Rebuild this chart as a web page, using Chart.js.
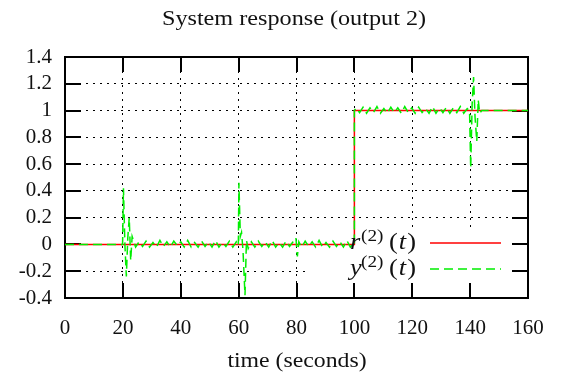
<!DOCTYPE html>
<html>
<head>
<meta charset="utf-8">
<script src="https://cdn.jsdelivr.net/npm/chart.js@4/dist/chart.umd.min.js"></script>
<style>
  body { margin: 0; background: #fff; }
  #wrap { width: 564px; height: 383px; position: relative; }
</style>
</head>
<body>
<div id="wrap"><canvas id="myChart"></canvas></div>
<script>
// tick labels
var xTickLabels = ['0', '20', '40', '60', '80', '100', '120', '140', '160'];
var yTickLabels = ['-0.4', '-0.2', '0', '0.2', '0.4', '0.6', '0.8', '1', '1.2', '1.4'];

// reference r(t)
var refTime  = [0, 100, 100, 160];
var refValue = [0, 0, 1, 1];

// output y(t)
var outTime = [0, 19.9, 20.2, 20.7, 21.2, 21.7, 22.2, 22.7, 23.2,
	24.4, 25.6, 26.8, 28.0, 29.2, 30.4, 31.6, 32.8, 34.0, 35.2,
	36.4, 37.6, 38.8, 40.0, 41.2, 42.4, 43.6, 44.8, 46.0, 47.2,
	48.4, 49.6, 50.8, 52.0, 53.2, 54.4, 55.6, 56.8, 58.0, 59.2,
	59.9, 60.1, 60.6, 61.0, 61.5, 62.2, 62.7, 63.3,
	64.4, 65.6, 66.8, 68.0, 69.2, 70.4, 71.6, 72.8, 74.0, 75.2, 76.4, 77.6, 78.8,
	79.8, 80.3, 80.8,
	81.8, 83.0, 84.2, 85.4, 86.6, 87.8, 89.0, 90.2, 91.4, 92.6, 93.8, 95.0, 96.2, 97.4, 98.6, 99.6,
	100, 100,
	100.6, 101.8, 103.0, 104.2, 105.4, 106.6, 107.8, 109.0, 110.2, 111.4,
	112.6, 113.8, 115.0, 116.2, 117.4, 118.6, 119.8, 121.0, 122.2, 123.4,
	124.6, 125.8, 127.0, 128.2, 129.4, 130.6, 131.8, 133.0, 134.2, 135.4,
	136.6, 137.8, 139.0,
	139.8, 140.2, 140.7, 141.2, 141.7, 142.3, 142.8, 143.3, 144.0, 160];
var outValue = [0, 0, 0.42, 0.0, -0.24, 0.05, 0.20, -0.12, 0.06,
	-0.02, 0.02, -0.015, 0.025, -0.02, 0.015, -0.02, 0.03, -0.015, 0.02,
	-0.02, 0.025, -0.01, 0.02, -0.02, 0.03, -0.02, 0.015, -0.02, 0.025,
	-0.015, 0.02, -0.02, 0.03, -0.02, 0.015, -0.015, 0.025, -0.02, 0.02,
	-0.01, 0.46, 0.06, 0.09, -0.04, -0.38, 0.03, -0.03,
	0.02, -0.02, 0.025, -0.015, 0.02, -0.02, 0.03, -0.02, 0.015, -0.02, 0.025, -0.015, 0.02,
	0.05, -0.09, 0.02,
	-0.02, 0.025, -0.015, 0.02, -0.02, 0.03, -0.02, 0.015, -0.02, 0.025, -0.015, 0.02, -0.02, 0.03, -0.02, 0.01,
	0, 1,
	1.02, 0.985, 1.025, 0.98, 1.02, 0.985, 1.03, 0.98, 1.015, 0.98,
	1.025, 0.985, 1.02, 0.98, 1.03, 0.985, 1.02, 0.98, 1.025, 0.985,
	1.015, 0.98, 1.03, 0.98, 1.02, 0.985, 1.025, 0.98, 1.02, 0.985,
	1.03, 0.98, 1.015,
	1.0, 0.57, 1.05, 1.25, 0.95, 0.77, 1.08, 0.98, 1.0, 1.0];

var RED = '#ff0000';
var GREEN = '#00ee00';
var SERIF = '"Liberation Serif", "Times New Roman", serif';

function toPoints (xs, ys) {
	return xs.map(function (x, i) { return { x: x, y: ys[i] }; });
}

// text stretched a little sideways, like the original print; returns end x
function drawText (ctx, text, font, x, y, align, sx) {
	ctx.save();
	ctx.font = font;
	ctx.fillStyle = '#111';
	ctx.textBaseline = 'alphabetic';
	var w = ctx.measureText(text).width * sx;
	var left = align === 'center' ? x - w / 2 : (align === 'right' ? x - w : x);
	ctx.translate(left, y);
	ctx.scale(sx, 1);
	ctx.textAlign = 'left';
	ctx.fillText(text, 0, 0);
	ctx.restore();
	return left + w;
}

// gnuplot style frame, inward ticks and key area
var framePlugin = {
	id: 'frame',
	beforeDatasetsDraw: function (chart) {
		var ctx = chart.ctx, a = chart.chartArea;
		var xs = chart.scales.x, ys = chart.scales.y;
		ctx.save();
		// key area hides the grid
		ctx.fillStyle = '#fff';
		ctx.fillRect(308, 230, a.right - 309, 53);
		ctx.strokeStyle = '#000';
		ctx.lineWidth = 2;
		ctx.beginPath();
		xs.ticks.forEach(function (t) {
			var px = Math.round(xs.getPixelForValue(t.value));
			ctx.moveTo(px, a.bottom); ctx.lineTo(px, a.bottom - 15);
			ctx.moveTo(px, a.top); ctx.lineTo(px, a.top + 15);
		});
		ys.ticks.forEach(function (t) {
			var py = Math.round(ys.getPixelForValue(t.value));
			ctx.moveTo(a.left, py); ctx.lineTo(a.left + 16, py);
			ctx.moveTo(a.right, py); ctx.lineTo(a.right - 16, py);
		});
		ctx.stroke();
		ctx.strokeRect(a.left, a.top, a.right - a.left, a.bottom - a.top);
		ctx.restore();
	},
	afterDraw: function (chart) {
		var ctx = chart.ctx;
		drawText(ctx, 'System response (output 2)', '22px ' + SERIF, 294, 25, 'center', 1.1);
		drawText(ctx, 'time (seconds)', '22px ' + SERIF, 297, 367, 'center', 1.08);

		// key: r^(2)(t) and y^(2)(t)
		var rows = [
			{ v: 'r', y: 249, color: RED, dash: [] },
			{ v: 'y', y: 275, color: GREEN, dash: [9, 5] }
		];
		rows.forEach(function (r) {
			drawText(ctx, r.v, 'italic 24px ' + SERIF, 350, r.y, 'left', 1.1);
			drawText(ctx, '(2)', '16px ' + SERIF, 361, r.y - 8, 'left', 1.2);
			var x = drawText(ctx, '(', '24px ' + SERIF, 389, r.y, 'left', 1.1);
			x = drawText(ctx, 't', 'italic 24px ' + SERIF, x + 1, r.y, 'left', 1.1);
			drawText(ctx, ')', '24px ' + SERIF, x + 1, r.y, 'left', 1.1);
			ctx.save();
			ctx.strokeStyle = r.color;
			ctx.lineWidth = 1.5;
			ctx.setLineDash(r.dash);
			ctx.beginPath();
			ctx.moveTo(430, r.y - 6);
			ctx.lineTo(501, r.y - 6);
			ctx.stroke();
			ctx.restore();
		});
	}
};

var el = document.getElementById('myChart');
var myChart = new Chart(el, {
	type: 'scatter',
	data: {
		datasets: [{
			label: 'y(t)',
			data: toPoints(outTime, outValue),
			showLine: true,
			borderColor: GREEN,
			borderWidth: 1.5,
			borderDash: [9, 5],
			pointRadius: 0,
			tension: 0
		}, {
			label: 'r(t)',
			data: toPoints(refTime, refValue),
			showLine: true,
			borderColor: RED,
			borderWidth: 1.5,
			pointRadius: 0,
			tension: 0
		}]
	},
	options: {
		responsive: true,
		maintainAspectRatio: false,
		animation: false,
		layout: { padding: { top: 57, right: 36, left: 0, bottom: 0 } },
		plugins: {
			legend: { display: false },
			tooltip: { enabled: false }
		},
		scales: {
			x: {
				type: 'linear',
				min: 0,
				max: 160,
				afterFit: function (s) {
					s.height = 85;
					s.paddingLeft = 0; s.paddingRight = 0;
				},
				grid: { color: '#000', lineWidth: 1, drawTicks: false },
				border: { display: false, dash: [2, 5] },
				ticks: {
					stepSize: 20,
					padding: 18,
					color: '#111',
					autoSkip: false,
					font: { family: SERIF, size: 21 },
					maxRotation: 0,
					callback: function (v, i) { return xTickLabels[i]; }
				}
			},
			y: {
				min: -0.4,
				max: 1.4,
				afterFit: function (s) {
					s.width = 65;
					s.paddingTop = 0; s.paddingBottom = 0;
				},
				grid: { color: '#000', lineWidth: 1, drawTicks: false },
				border: { display: false, dash: [2, 5] },
				ticks: {
					stepSize: 0.2,
					padding: 13,
					color: '#111',
					autoSkip: false,
					font: { family: SERIF, size: 21 },
					callback: function (v, i) { return yTickLabels[i]; }
				}
			}
		}
	},
	plugins: [framePlugin]
});
</script>
</body>
</html>
